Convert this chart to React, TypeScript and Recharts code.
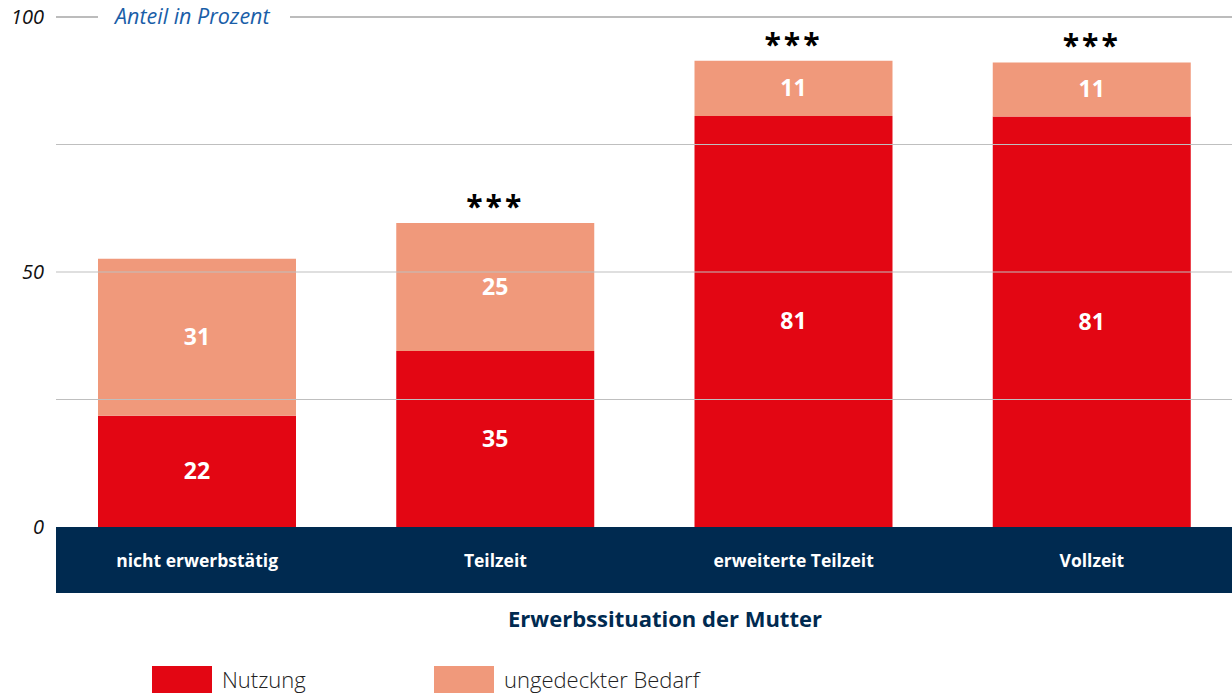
import { BarChart, Bar, XAxis, YAxis, ReferenceLine, LabelList } from "recharts";

const categories = ["nicht erwerbstätig", "Teilzeit", "erweiterte Teilzeit", "Vollzeit"];
const nutzung = [21.8, 34.5, 80.6, 80.5];
const bedarf = [30.8, 25.1, 10.8, 10.6];
const signif = ["", "***", "***", "***"];
const yTicks = [0, 50, 100];
const gridValues = [25, 50, 75, 100];
const legendItems = ["Nutzung", "ungedeckter Bedarf"];

const RED = "#e30613";
const SALMON = "#f0997b";
const NAVY = "#002a50";
const FONT = "'Open Sans', 'Noto Sans', sans-serif";

const data = categories.map((name, i) => ({
  name,
  nutzung: nutzung[i],
  bedarf: bedarf[i],
  sig: signif[i],
}));

function GridLine(props: any) {
  const { y1, x2 } = props;
  const right = Math.min(x2, 1232);
  if (props.top) {
    return (
      <g>
        <line x1={56} x2={98} y1={y1} y2={y1} stroke="#a6a6a6" strokeWidth={1.5} />
        <text x={115} y={y1} dy={7} fill="#1a5ea8" fontSize={21.5} fontStyle="italic" fontFamily={FONT}>
          Anteil in Prozent
        </text>
        <line x1={290} x2={right} y1={y1} y2={y1} stroke="#a6a6a6" strokeWidth={1.5} />
      </g>
    );
  }
  return <line x1={56} x2={right} y1={y1} y2={y1} stroke="#bfbfbf" strokeWidth={1} />;
}

function YTick({ y, payload }: any) {
  return (
    <text x={44} y={y} dy={7} textAnchor="end" fontSize={20} fontStyle="italic" fill="#111" fontFamily={FONT}>
      {payload.value}
    </text>
  );
}

function XTick({ x, y, payload }: any) {
  return (
    <text x={x} y={y} dy={32} textAnchor="middle" fontSize={17.5} fontWeight={700} fill="#fff" fontFamily={FONT}>
      {payload.value}
    </text>
  );
}

function SegLabel({ x, y, width, height, value }: any) {
  return (
    <text x={x + width / 2} y={y + height / 2} dy={8} textAnchor="middle" fontSize={23} fontWeight={700} fill="#fff" fontFamily={FONT}>
      {Math.round(value)}
    </text>
  );
}

function SigLabel({ x, y, width, index }: any) {
  const s = data[index]?.sig;
  if (!s) return null;
  return (
    <text x={x + width / 2} y={y - 6} textAnchor="middle" fontSize={30} fontWeight={700} fill="#000" fontFamily={FONT} letterSpacing={3}>
      {s}
    </text>
  );
}

export default function App() {
  const colors = [RED, SALMON];
  return (
    <div style={{ position: "absolute", left: 0, top: 0, width: 1232, height: 693, overflow: "hidden", background: "#fff" }}>
      <div style={{ position: "absolute", left: 56, top: 527, width: 1176, height: 66, background: NAVY }} />
      <div style={{ position: "absolute", left: 0, top: 0 }}>
        <BarChart width={1241} height={693} data={data} margin={{ top: 17, right: 0, bottom: 100, left: 0 }} barSize={198}>
          <YAxis width={48} domain={[0, 100]} ticks={yTicks} axisLine={false} tickLine={false} tick={<YTick />} />
          <XAxis dataKey="name" height={66} axisLine={false} tickLine={false} tick={<XTick />} interval={0} />
          {gridValues.map((v) => (
            <ReferenceLine key={v} y={v} shape={(p: any) => <GridLine {...p} top={v === 100} />} />
          ))}
          <Bar dataKey="nutzung" stackId="a" fill={RED} isAnimationActive={false}>
            <LabelList dataKey="nutzung" content={<SegLabel />} />
          </Bar>
          <Bar dataKey="bedarf" stackId="a" fill={SALMON} isAnimationActive={false}>
            <LabelList dataKey="bedarf" content={<SegLabel />} />
            <LabelList dataKey="sig" content={<SigLabel />} />
          </Bar>
        </BarChart>
      </div>
      <div style={{ position: "absolute", left: 0, width: 1330, top: 603, textAlign: "center", fontFamily: FONT, fontSize: 22, fontWeight: 700, color: NAVY }}>
        Erwerbssituation der Mutter
      </div>
      <div style={{ position: "absolute", left: 152, top: 666, display: "flex", fontFamily: FONT }}>
        {legendItems.map((label, i) => (
          <div key={label} style={{ display: "flex", alignItems: "center", width: 282 }}>
            <div style={{ width: 60, height: 27, background: colors[i], marginRight: 10 }} />
            <span style={{ fontSize: 22, fontWeight: 300, color: "#222", lineHeight: "27px" }}>{label}</span>
          </div>
        ))}
      </div>
    </div>
  );
}
